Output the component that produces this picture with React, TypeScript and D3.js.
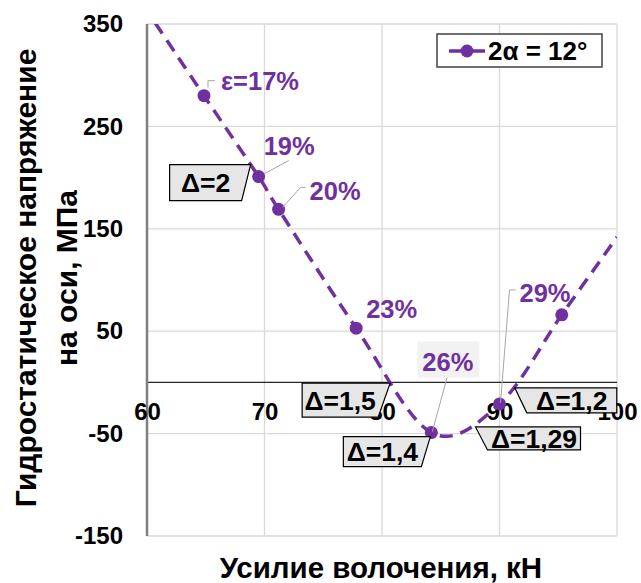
import { useEffect, useRef } from "react";
import * as d3 from "d3";

// drawing force, kN
const force = [64.85, 69.5, 71.2, 77.8, 84.2, 90.0, 95.3];
// hydrostatic stress on the axis, MPa
const stress = [280, 201, 169, 53, -49, -21, 66];
// where the dashed line leaves the plot area
const lineStartForce = 60.7;
const lineStartStress = 351;
const lineEndForce = 100;
const lineEndStress = 142;
// reduction labels (last point has none)
const reduction = ["ε=17%", "19%", "20%", "23%", "26%", "29%", ""];
const deltaLabels = ["Δ=2", "Δ=1,5", "Δ=1,4", "Δ=1,29", "Δ=1,2"];
const deltaPoint = [1, 3, 4, 5, 6];
const xTicks = [60, 70, 80, 90, 100];
const yTicks = [350, 250, 150, 50, -50, -150];
const seriesName = "2α = 12°";

const PURPLE = "#7030a0";
const FONT = "'Liberation Sans', Arial, sans-serif";

export default function App() {
  const svgRef = useRef<SVGSVGElement | null>(null);

  useEffect(() => {
    if (!svgRef.current) return;
    const svg = d3.select(svgRef.current);
    svg.selectAll("*").remove();

    const W = 641;
    const H = 583;
    const left = 147, right = 617, top = 24, bottom = 536;

    const x = d3.scaleLinear().domain([60, 100]).range([left, right]);
    const y = d3.scaleLinear().domain([-150, 350]).range([bottom, top]);

    svg.attr("width", W).attr("height", H);

    svg.append("rect").attr("width", W).attr("height", H).attr("fill", "white");

    // gridlines
    const grid = svg.append("g").attr("stroke", "#d9d9d9").attr("stroke-width", 1.3);
    grid
      .selectAll("line.h")
      .data(yTicks)
      .join("line")
      .attr("x1", left)
      .attr("x2", right)
      .attr("y1", (d) => y(d))
      .attr("y2", (d) => y(d));
    grid
      .selectAll("line.v")
      .data(xTicks.slice(1))
      .join("line")
      .attr("x1", (d) => x(d))
      .attr("x2", (d) => x(d))
      .attr("y1", top)
      .attr("y2", bottom);

    // axes
    svg
      .append("line")
      .attr("x1", left)
      .attr("x2", right)
      .attr("y1", y(0))
      .attr("y2", y(0))
      .attr("stroke", "#262626")
      .attr("stroke-width", 1.3);
    svg
      .append("line")
      .attr("x1", left)
      .attr("x2", left)
      .attr("y1", top)
      .attr("y2", bottom)
      .attr("stroke", "#7f7f7f")
      .attr("stroke-width", 2.5);

    const yAxis = d3
      .axisLeft(y)
      .tickValues(yTicks)
      .tickSize(0)
      .tickPadding(24)
      .tickFormat((d) => String(d));
    svg
      .append("g")
      .attr("transform", `translate(${left},0)`)
      .call(yAxis)
      .call((g) => g.select(".domain").remove())
      .selectAll("text")
      .attr("font-family", FONT)
      .attr("font-size", 24)
      .attr("font-weight", "bold")
      .attr("fill", "#000");

    const xAxis = d3.axisBottom(x).tickValues(xTicks).tickSize(0).tickPadding(21);
    svg
      .append("g")
      .attr("transform", `translate(0,${y(0)})`)
      .call(xAxis)
      .call((g) => g.select(".domain").remove())
      .selectAll("text")
      .attr("font-family", FONT)
      .attr("font-size", 24)
      .attr("font-weight", "bold")
      .attr("fill", "#000");

    // axis titles
    svg
      .append("text")
      .attr("x", (left + right) / 2 - 1)
      .attr("y", 578)
      .attr("text-anchor", "middle")
      .attr("font-family", FONT)
      .attr("font-size", 29.5)
      .attr("font-weight", "bold")
      .text("Усилие волочения, кН");
    const yt = svg
      .append("text")
      .attr("transform", `translate(0,${(top + bottom) / 2 - 2}) rotate(-90)`)
      .attr("text-anchor", "middle")
      .attr("font-family", FONT)
      .attr("font-size", 30)
      .attr("font-weight", "bold");
    yt.append("tspan").attr("x", 0).attr("y", 36).text("Гидростатическое напряжение");
    yt.append("tspan").attr("x", 0).attr("y", 77).text("на оси, МПа");

    // smoothed dashed line through the points
    svg
      .append("clipPath")
      .attr("id", "plot-clip")
      .append("rect")
      .attr("x", left)
      .attr("y", top)
      .attr("width", right - left)
      .attr("height", bottom - top);
    const lineX = [lineStartForce, ...force, lineEndForce];
    const lineY = [lineStartStress, ...stress, lineEndStress];
    const line = d3
      .line<number>()
      .x((i) => x(lineX[i]))
      .y((i) => y(lineY[i]))
      .curve(d3.curveCardinal.tension(0));
    svg
      .append("path")
      .attr("clip-path", "url(#plot-clip)")
      .attr("d", line(d3.range(lineX.length)))
      .attr("fill", "none")
      .attr("stroke", PURPLE)
      .attr("stroke-width", 3.5)
      .attr("stroke-dasharray", "13 8");

    // markers
    const pts = force.map((f, i) => ({ px: x(f), py: y(stress[i]) }));
    svg
      .append("g")
      .selectAll("circle")
      .data(pts)
      .join("circle")
      .attr("cx", (d) => d.px)
      .attr("cy", (d) => d.py)
      .attr("r", 6.5)
      .attr("fill", PURPLE);

    // reduction labels: offsets from their point, leader lines
    const pctLayout = [
      { dx: 17, dy: -6, lead: [[4, -8], [4, -15], [11, -15]] },
      { dx: 5, dy: -22, lead: [[6, -3], [30, -16]] },
      { dx: 31, dy: -9, lead: [[4, -2], [22, -22], [27, -22]] },
      { dx: 10, dy: -10, lead: [] },
      { dx: -9, dy: -62, lead: [[16, -56], [1, -1]], bg: true },
      { dx: 20, dy: -102, lead: [[16, -114], [10, -114], [1, -1]] },
    ];
    pctLayout.forEach((l, i) => {
      const p = pts[i];
      if (l.lead.length) {
        svg
          .append("polyline")
          .attr("points", l.lead.map(([a, b]) => `${p.px + a},${p.py + b}`).join(" "))
          .attr("fill", "none")
          .attr("stroke", "#a6a6a6")
          .attr("stroke-width", 1);
      }
      if (l.bg) {
        svg
          .append("rect")
          .attr("x", p.px + l.dx - 5)
          .attr("y", p.py + l.dy - 29)
          .attr("width", 62)
          .attr("height", 36)
          .attr("fill", "#f2f2f2");
      }
      svg
        .append("text")
        .attr("x", p.px + l.dx)
        .attr("y", p.py + l.dy)
        .attr("font-family", FONT)
        .attr("font-size", 25.5)
        .attr("font-weight", "bold")
        .attr("fill", PURPLE)
        .text(reduction[i]);
    });

    // Δ callout boxes
    const boxLayout = [
      { x0: -89, x1: -8, y0: -12, y1: 24, side: "right", s: 9 },
      { x0: -54, x1: 34, y0: 55, y1: 89, side: "right", s: 12 },
      { x0: -88, x1: -1, y0: 4, y1: 34, side: "right", s: 9 },
      { x0: -24, x1: 81, y0: 23, y1: 46, side: "left", s: 12 },
      { x0: -47, x1: 55, y0: 73, y1: 98, side: "left", s: 12 },
    ];
    boxLayout.forEach((b, k) => {
      const p = pts[deltaPoint[k]];
      const X0 = p.px + b.x0, X1 = p.px + b.x1, Y0 = p.py + b.y0, Y1 = p.py + b.y1;
      const poly =
        b.side === "right"
          ? [[X0, Y0], [X1, Y0], [X1 - b.s, Y1], [X0, Y1]]
          : [[X0, Y0], [X1, Y0], [X1, Y1], [X0 + b.s, Y1]];
      svg
        .append("polygon")
        .attr("points", poly.map((q) => q.join(",")).join(" "))
        .attr("fill", "#e7e6e6")
        .attr("stroke", "#000")
        .attr("stroke-width", 1.2);
      const cx = b.side === "right" ? (X0 + X1 - b.s) / 2 : (X0 + b.s + X1) / 2;
      svg
        .append("text")
        .attr("x", cx)
        .attr("y", (Y0 + Y1) / 2)
        .attr("dy", "0.36em")
        .attr("text-anchor", "middle")
        .attr("font-family", FONT)
        .attr("font-size", 26.5)
        .attr("font-weight", "bold")
        .attr("fill", "#000")
        .text(deltaLabels[k]);
    });

    // legend
    const lg = svg.append("g").attr("transform", "translate(437,34)");
    lg.append("rect")
      .attr("width", 165)
      .attr("height", 33)
      .attr("fill", "white")
      .attr("stroke", "#404040")
      .attr("stroke-width", 1.5);
    lg.append("line")
      .attr("x1", 12)
      .attr("x2", 48)
      .attr("y1", 17)
      .attr("y2", 17)
      .attr("stroke", PURPLE)
      .attr("stroke-width", 3.5);
    lg.append("circle").attr("cx", 30).attr("cy", 17).attr("r", 6.5).attr("fill", PURPLE);
    lg.append("text")
      .attr("x", 51)
      .attr("y", 26)
      .attr("font-family", FONT)
      .attr("font-size", 26)
      .attr("font-weight", "bold")
      .text(seriesName);
  }, []);

  return (
    <svg
      ref={svgRef}
      style={{ position: "absolute", left: 0, top: 0, display: "block" }}
    ></svg>
  );
}
